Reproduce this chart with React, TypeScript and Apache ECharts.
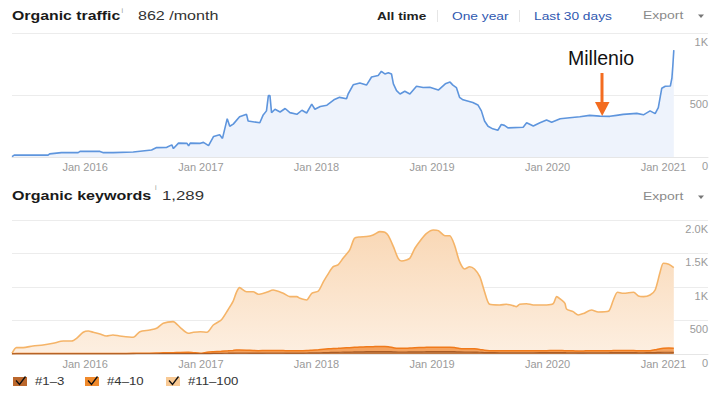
import React, { useEffect, useRef } from "react";
import * as echarts from "echarts";

// ---- Organic traffic (monthly visits) ----
const trafficDates = [
  "2015-05-15", "2015-05-22", "2015-09-06", "2015-09-11", "2015-10-18", "2015-12-10", "2015-12-16", "2016-02-17", "2016-02-28", "2016-03-29",
  "2016-06-01", "2016-07-29", "2016-08-14", "2016-09-15", "2016-10-01", "2016-10-06", "2016-10-22", "2016-11-18", "2016-11-23", "2016-11-28",
  "2016-12-30", "2017-01-09", "2017-01-25", "2017-02-10", "2017-03-01", "2017-03-10", "2017-03-25", "2017-04-02", "2017-04-13", "2017-05-03",
  "2017-05-25", "2017-05-30", "2017-07-06", "2017-07-16", "2017-07-27", "2017-08-02", "2017-08-07", "2017-08-12", "2017-08-23", "2017-09-08",
  "2017-09-24", "2017-10-09", "2017-10-31", "2017-11-16", "2017-12-01", "2017-12-17", "2017-12-27", "2018-01-13", "2018-02-03", "2018-02-25",
  "2018-03-15", "2018-04-06", "2018-04-11", "2018-04-27", "2018-05-18", "2018-06-08", "2018-06-24", "2018-07-15", "2018-07-25", "2018-08-05",
  "2018-08-16", "2018-08-26", "2018-09-01", "2018-09-11", "2018-09-22", "2018-10-07", "2018-10-23", "2018-11-13", "2018-12-04", "2018-12-25",
  "2019-01-21", "2019-02-12", "2019-02-27", "2019-03-08", "2019-03-19", "2019-03-29", "2019-04-09", "2019-05-10", "2019-05-26", "2019-06-06",
  "2019-06-16", "2019-06-27", "2019-07-12", "2019-07-28", "2019-08-08", "2019-08-18", "2019-08-29", "2019-10-16", "2019-10-27", "2019-11-17",
  "2019-12-08", "2019-12-29", "2020-01-14", "2020-02-10", "2020-03-11", "2020-04-12", "2020-05-13", "2020-06-14", "2020-07-16", "2020-08-06",
  "2020-08-27", "2020-10-09", "2020-10-30", "2020-11-20", "2020-12-06", "2020-12-16", "2020-12-27", "2021-01-07", "2021-01-23", "2021-01-28",
  "2021-01-31", "2021-02-03",
];
const trafficValues = [
  3, 15, 15, 25, 35, 35, 45, 45, 35, 35,
  40, 57, 76, 78, 98, 68, 112, 110, 90, 112,
  110, 118, 92, 166, 180, 150, 309, 248, 265, 325,
  344, 290, 276, 336, 372, 495, 495, 358, 385, 363,
  391, 358, 344, 377, 355, 426, 385, 407, 418, 461,
  481, 470, 508, 582, 596, 580, 645, 658, 691, 670,
  680, 670, 590, 535, 508, 530, 508, 571, 560, 563,
  540, 590, 604, 580, 560, 481, 461, 440, 420, 372,
  290, 248, 227, 216, 262, 255, 235, 240, 276, 250,
  276, 298, 280, 309, 317, 325, 336, 330, 328, 336,
  344, 352, 340, 372, 350, 399, 555, 571, 572, 637,
  740, 862,
];
const trafficTickLabels = ["0", "500", "1K"];

// ---- Organic keywords by position ----
const kwDates = [
  "2015-05-15", "2015-05-29", "2015-06-19", "2015-07-20", "2015-08-21", "2015-09-22", "2015-10-24", "2015-11-19", "2015-12-05", "2015-12-26",
  "2016-01-11", "2016-01-27", "2016-02-17", "2016-03-08", "2016-03-29", "2016-04-19", "2016-06-01", "2016-06-22", "2016-07-23", "2016-08-14",
  "2016-09-04", "2016-10-05", "2016-10-27", "2016-11-22", "2016-12-08", "2016-12-30", "2017-01-20", "2017-02-09", "2017-03-06", "2017-03-27",
  "2017-04-12", "2017-04-23", "2017-05-03", "2017-05-25", "2017-06-15", "2017-07-01", "2017-07-27", "2017-08-17", "2017-09-18", "2017-10-09",
  "2017-10-31", "2017-11-10", "2017-12-01", "2017-12-17", "2018-01-07", "2018-01-23", "2018-02-08", "2018-02-23", "2018-03-10", "2018-03-26",
  "2018-04-16", "2018-05-01", "2018-05-18", "2018-06-08", "2018-06-29", "2018-07-20", "2018-08-05", "2018-08-16", "2018-09-01", "2018-09-16",
  "2018-09-27", "2018-10-12", "2018-10-23", "2018-11-08", "2018-11-29", "2018-12-15", "2019-01-05", "2019-01-21", "2019-02-11", "2019-02-26",
  "2019-03-13", "2019-03-29", "2019-04-14", "2019-04-30", "2019-05-15", "2019-06-01", "2019-06-16", "2019-07-02", "2019-08-03", "2019-08-24",
  "2019-09-14", "2019-09-25", "2019-10-05", "2019-10-27", "2019-11-17", "2019-12-29", "2020-01-19", "2020-01-30", "2020-02-14", "2020-02-25",
  "2020-03-01", "2020-03-22", "2020-04-07", "2020-04-23", "2020-05-19", "2020-06-09", "2020-07-11", "2020-07-27", "2020-08-09", "2020-08-28",
  "2020-09-29", "2020-10-14", "2020-10-30", "2020-11-20", "2020-12-06", "2020-12-22", "2021-01-01", "2021-01-18", "2021-02-03",
];
const kwPos1to3 = [
  1, 2, 2, 2, 2, 2, 3, 3, 3, 3,
  3, 3, 3, 3, 3, 3, 3, 4, 4, 4,
  5, 5, 6, 6, 5, 4, 6, 8, 10, 12,
  14, 15, 15, 15, 14, 14, 15, 15, 15, 14,
  14, 14, 15, 16, 18, 20, 22, 24, 25, 27,
  29, 31, 32, 34, 35, 36, 36, 35, 33, 30,
  30, 30, 31, 32, 33, 34, 35, 35, 35, 35,
  34, 31, 30, 30, 29, 26, 22, 20, 19, 19,
  19, 19, 19, 19, 19, 20, 20, 20, 20, 20,
  19, 19, 18, 18, 19, 19, 19, 20, 20, 20,
  20, 19, 19, 20, 22, 25, 26, 26, 25,
];
const kwPos4to10 = [
  2, 4, 4, 4, 5, 5, 5, 5, 6, 6,
  6, 6, 6, 6, 6, 6, 7, 8, 8, 10,
  12, 15, 18, 20, 15, 8, 20, 25, 30, 35,
  40, 45, 45, 42, 38, 36, 38, 38, 36, 35,
  35, 34, 36, 40, 45, 50, 55, 58, 60, 63,
  66, 69, 72, 74, 75, 76, 76, 74, 62, 55,
  54, 56, 58, 62, 64, 66, 67, 66, 65, 66,
  62, 52, 50, 50, 48, 42, 34, 30, 28, 28,
  28, 28, 29, 29, 29, 30, 31, 32, 31, 30,
  29, 28, 27, 28, 29, 29, 30, 31, 32, 32,
  31, 30, 29, 30, 40, 55, 60, 62, 60,
];
const kwPos11to100 = [
  7, 89, 89, 114, 127, 153, 186, 186, 225, 315,
  334, 315, 290, 260, 275, 260, 239, 321, 346, 369,
  441, 463, 374, 283, 304, 321, 298, 400, 468, 610,
  727, 861, 930, 873, 878, 841, 868, 902, 855, 807,
  807, 783, 755, 850, 878, 1010, 1127, 1221, 1244, 1338,
  1458, 1627, 1643, 1645, 1667, 1714, 1704, 1657, 1507, 1343,
  1304, 1317, 1339, 1484, 1620, 1702, 1749, 1740, 1666, 1665,
  1531, 1295, 1189, 1223, 1192, 1086, 874, 692, 685, 695,
  675, 660, 694, 703, 684, 682, 700, 804, 755, 707,
  624, 585, 537, 557, 609, 579, 588, 755, 869, 854,
  870, 817, 808, 831, 893, 1149, 1268, 1251, 1204,
];
const kwTickLabels = ["0", "500", "1K", "1.5K", "2.0K"];
const kwSeriesNames = ["#1–3", "#4–10", "#11–100"];

const axisStart = "2015-05-15";
const axisEnd = "2021-05-22";

const FONT = '"Liberation Sans", Arial, Helvetica, sans-serif';

const toTime = (d: string) => echarts.time.parse(d).getTime();

function txt(text: string, x: number, y: number, opts: any = {}) {
  return {
    type: "text",
    x,
    y,
    scaleX: opts.scaleX ?? 1,
    z: 100,
    style: {
      text,
      fontSize: opts.fontSize ?? 11,
      fontWeight: opts.fontWeight ?? "normal",
      fontFamily: FONT,
      fill: opts.fill ?? "#333",
      verticalAlign: "middle",
      align: "left",
    },
  };
}

const isJanFirst = (v: number) => {
  const d = new Date(v);
  return d.getMonth() === 0 && d.getDate() === 1 && d.getHours() === 0;
};

export default function App() {
  const ref = useRef<HTMLDivElement>(null);

  useEffect(() => {
    document.body.style.margin = "0";
    if (!ref.current) return;
    const chart = echarts.init(ref.current, null, { renderer: "svg" });

    const minT = toTime(axisStart);
    const maxT = toTime(axisEnd);

    const xAxisCommon = (gridIndex: number) => ({
      type: "time",
      gridIndex,
      min: minT,
      max: maxT,
      splitNumber: 6,
      axisLine: { show: true, lineStyle: { color: "#e6e6e6", width: 1 } },
      axisTick: {
        show: true,
        inside: true,
        length: 4,
        lineStyle: { color: "#dddddd" },
      },
      axisLabel: {
        formatter: (v: number) => (isJanFirst(v) ? "Jan " + new Date(v).getFullYear() : ""),
        color: "#9a9a9a",
        fontSize: 11,
        fontFamily: FONT,
        margin: 4,
        showMinLabel: false,
        showMaxLabel: false,
        hideOverlap: false,
      },
      splitLine: { show: false },
    });

    const yAxisCommon = (gridIndex: number, max: number, labels: string[]) => ({
      type: "value",
      gridIndex,
      position: "right",
      min: 0,
      max,
      interval: 500,
      axisLine: { show: false },
      axisTick: { show: false },
      axisLabel: {
        inside: true,
        margin: 0,
        align: "right",
        verticalAlign: "top",
        padding: [3, 0, 0, 0],
        color: "#9a9a9a",
        fontSize: 11,
        fontFamily: FONT,
        formatter: (v: number) => labels[Math.round(v / 500)] ?? "",
      },
      splitLine: { show: true, lineStyle: { color: "#ececec", width: 1 } },
    });

    const legendColors = ["#bb672c", "#f08a2c", "#f8c994"];
    const legendX = [13, 85, 166];
    const legendTextX = [35, 107, 188];
    const legendItems: any[] = [];
    kwSeriesNames.forEach((name, i) => {
      const bx = legendX[i];
      legendItems.push({
        type: "rect",
        z: 100,
        shape: { x: bx, y: 377, width: 14, height: 9 },
        style: { fill: legendColors[i] },
      });
      legendItems.push({
        type: "polyline",
        z: 101,
        shape: { points: [[bx + 3, 380.5], [bx + 6.5, 384.5], [bx + 12.5, 376.5]] },
        style: { stroke: "#111", lineWidth: 1.3, fill: null },
      });
      legendItems.push(txt(name, legendTextX[i], 381.5, { fontSize: 11, scaleX: 1.2, fill: "#333" }));
    });

    const option: any = {
      animation: false,
      textStyle: { fontFamily: FONT },
      grid: [
        { left: 12, right: 12, top: 33, height: 124 },
        { left: 12, right: 12, top: 220, height: 134 },
      ],
      xAxis: [xAxisCommon(0), xAxisCommon(1)],
      yAxis: [
        yAxisCommon(0, 1000, trafficTickLabels),
        yAxisCommon(1, 2000, kwTickLabels),
      ],
      series: [
        {
          name: "Organic traffic",
          type: "line",
          xAxisIndex: 0,
          yAxisIndex: 0,
          data: trafficDates.map((d, i) => [toTime(d), trafficValues[i]]),
          showSymbol: false,
          lineStyle: { color: "#5e95dd", width: 1.6 },
          areaStyle: { color: "#eef3fc", opacity: 1 },
        },
        {
          name: kwSeriesNames[0],
          type: "line",
          stack: "kw",
          xAxisIndex: 1,
          yAxisIndex: 1,
          smooth: 0.25,
          data: kwDates.map((d, i) => [toTime(d), kwPos1to3[i]]),
          showSymbol: false,
          lineStyle: { color: "#a95c26", width: 1.2 },
          areaStyle: { color: "#c27840", opacity: 1 },
          z: 4,
        },
        {
          name: kwSeriesNames[1],
          type: "line",
          stack: "kw",
          xAxisIndex: 1,
          yAxisIndex: 1,
          smooth: 0.25,
          data: kwDates.map((d, i) => [toTime(d), kwPos4to10[i]]),
          showSymbol: false,
          lineStyle: { color: "#f07a1a", width: 1.5 },
          areaStyle: { color: "#f4a25e", opacity: 1 },
          z: 3,
        },
        {
          name: kwSeriesNames[2],
          type: "line",
          stack: "kw",
          xAxisIndex: 1,
          yAxisIndex: 1,
          smooth: 0.25,
          data: kwDates.map((d, i) => [toTime(d), kwPos11to100[i]]),
          showSymbol: false,
          lineStyle: { color: "#f5b468", width: 1.6 },
          areaStyle: {
            opacity: 1,
            color: new echarts.graphic.LinearGradient(0, 0, 0, 1, [
              { offset: 0, color: "#f9d8b6" },
              { offset: 1, color: "#fdefe1" },
            ]),
          },
          z: 2,
        },
      ],
      graphic: [
        // top header
        txt("Organic traffic", 12, 15.5, { fontSize: 12, fontWeight: "bold", scaleX: 1.32, fill: "#1a1a1a" }),
        txt("i", 121.5, 10, { fontSize: 7, fill: "#999" }),
        txt("862 /month", 138, 15.5, { fontSize: 12, scaleX: 1.34, fill: "#333" }),
        txt("All time", 377, 16, { fontSize: 11, fontWeight: "bold", scaleX: 1.24, fill: "#222" }),
        { type: "line", z: 100, shape: { x1: 437.5, y1: 10, x2: 437.5, y2: 22 }, style: { stroke: "#e6e6e6", lineWidth: 1 } },
        txt("One year", 452, 16, { fontSize: 11, scaleX: 1.25, fill: "#2f58b0" }),
        { type: "line", z: 100, shape: { x1: 519.5, y1: 10, x2: 519.5, y2: 22 }, style: { stroke: "#e6e6e6", lineWidth: 1 } },
        txt("Last 30 days", 534, 16, { fontSize: 11, scaleX: 1.25, fill: "#2f58b0" }),
        txt("Export", 643, 16, { fontSize: 11, scaleX: 1.27, fill: "#8a8a8a" }),
        { type: "polygon", z: 100, shape: { points: [[698, 14.5], [704, 14.5], [701, 18]] }, style: { fill: "#777" } },
        // bottom header
        txt("Organic keywords", 12, 196, { fontSize: 12, fontWeight: "bold", scaleX: 1.34, fill: "#1a1a1a" }),
        txt("i", 155, 187, { fontSize: 7, fill: "#999" }),
        txt("1,289", 162, 196, { fontSize: 12, scaleX: 1.4, fill: "#333" }),
        txt("Export", 643, 197, { fontSize: 11, scaleX: 1.27, fill: "#8a8a8a" }),
        { type: "polygon", z: 100, shape: { points: [[698, 195.5], [704, 195.5], [701, 199]] }, style: { fill: "#777" } },
        // annotation
        txt("Millenio", 568, 57.5, { fontSize: 19.5, fill: "#111" }),
        { type: "line", z: 100, shape: { x1: 602, y1: 73, x2: 602, y2: 103 }, style: { stroke: "#f36c20", lineWidth: 3 } },
        { type: "polygon", z: 100, shape: { points: [[595, 102], [609.5, 102], [602.2, 116]] }, style: { fill: "#f36c20" } },
        // legend
        ...legendItems,
      ],
    };

    chart.setOption(option);
    return () => chart.dispose();
  }, []);

  return <div ref={ref} style={{ width: 720, height: 397 }} />;
}
